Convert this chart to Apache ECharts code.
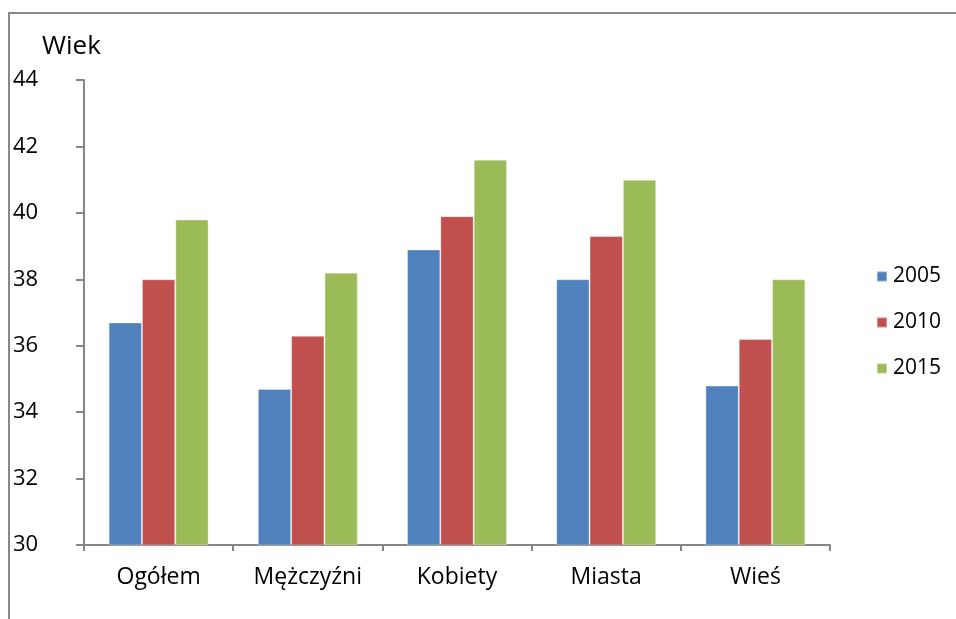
<!DOCTYPE html>
<html><head><meta charset="utf-8">
<script src="https://cdn.jsdelivr.net/npm/echarts@6/dist/echarts.min.js"></script>
<style>html,body{margin:0;padding:0;background:#fff}#c{width:956px;height:619px}</style>
</head><body><div id="c"></div>
<script>
var categories = ['Ogółem', 'Mężczyźni', 'Kobiety', 'Miasta', 'Wieś'];
var years = ['2005', '2010', '2015'];
var v2005 = [36.7, 34.7, 38.9, 38.0, 34.8];
var v2010 = [38.0, 36.3, 39.9, 39.3, 36.2];
var v2015 = [39.8, 38.2, 41.6, 41.0, 38.0];
var yTicks = [30, 32, 34, 36, 38, 40, 42, 44];
var colors = ['#4F81BD', '#C0504D', '#9BBB59'];
var font = '"Open Sans", Lato, sans-serif';

var chart = echarts.init(document.getElementById('c'), null, {renderer: 'canvas'});
var seriesData = [v2005, v2010, v2015];
chart.setOption({
  animation: false,
  textStyle: {fontFamily: font},
  graphic: [{
    type: 'rect', silent: true,
    shape: {x: 9, y: 13, width: 960, height: 620},
    style: {fill: 'none', stroke: '#888888', lineWidth: 2}
  }],
  title: {text: 'Wiek', left: 37, top: 29, textStyle: {fontSize: 26, fontWeight: 'normal', color: '#000', fontFamily: font}},
  legend: {
    orient: 'vertical', left: 871, top: 261, itemWidth: 10, itemHeight: 10, itemGap: 25,
    data: years, icon: 'rect',
    textStyle: {fontSize: 21, color: '#000', fontFamily: font, padding: [0, 0, 0, 1]}
  },
  grid: {left: 84, right: 126, top: 80, bottom: 74, containLabel: false},
  xAxis: {
    type: 'category', data: categories,
    axisLine: {lineStyle: {color: '#868686', width: 2}},
    axisTick: {show: true, length: 6, alignWithLabel: false, lineStyle: {color: '#868686', width: 2}},
    axisLabel: {fontSize: 23, color: '#000', margin: 21, fontFamily: font}
  },
  yAxis: {
    type: 'value', min: 30, max: 44, interval: 2,
    axisLine: {show: true, lineStyle: {color: '#868686', width: 2}},
    axisTick: {show: true, inside: false, length: 8, lineStyle: {color: '#868686', width: 2}},
    splitLine: {show: false},
    axisLabel: {fontSize: 22, color: '#000', align: 'left', margin: 71, fontFamily: font,
      formatter: function (v) { return yTicks.indexOf(v) >= 0 ? String(v) : ''; }}
  },
  series: years.map(function (y, i) {
    return {
      name: y, type: 'bar', data: seriesData[i],
      barGap: '0%', barCategoryGap: '33%',
      itemStyle: {color: colors[i], borderColor: 'rgba(255,255,255,0.35)', borderWidth: 1}
    };
  })
});
</script></body></html>
